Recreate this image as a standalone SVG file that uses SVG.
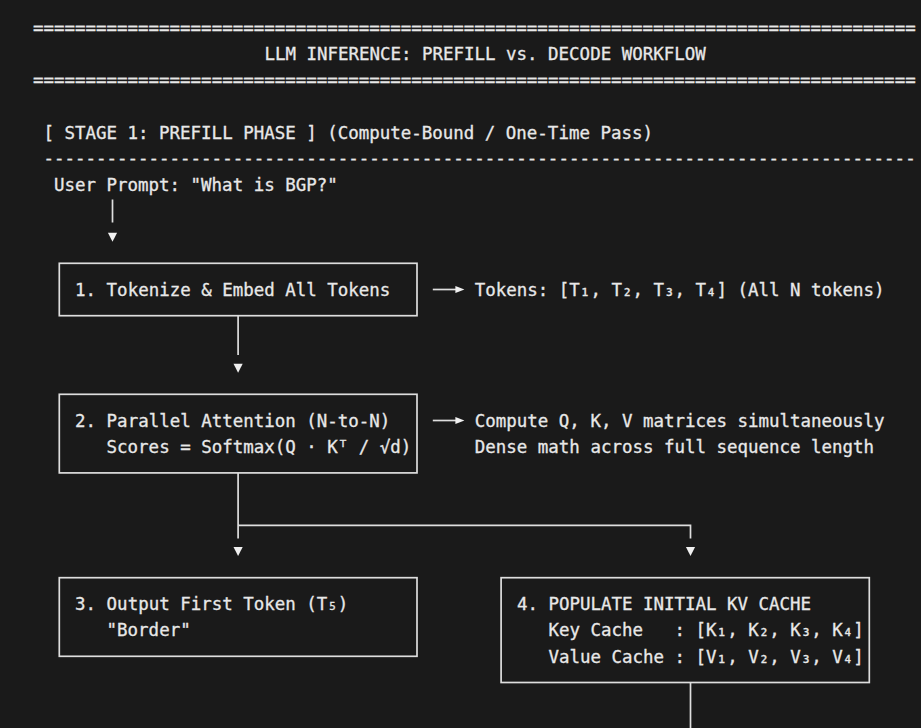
<svg xmlns="http://www.w3.org/2000/svg" width="921" height="728" viewBox="0 0 921 728">
  <style>
    .t { font-family: "DejaVu Sans Mono", "Liberation Mono", monospace; font-size: 17.47px; fill: #e8e8e8; stroke: #e8e8e8; stroke-width: 0.3; white-space: pre; }
    .box { fill: none; stroke: #dedede; stroke-width: 1.7; }
    .ln { fill: none; stroke: #dedede; stroke-width: 1.7; }
    .head { fill: #f0f0f0; }
  </style>
  <defs>
    <path id="down" d="M -4.6 -4.4 L 4.6 -4.4 L 0 4.6 Z"/>
    <path id="right" d="M -9 -3.6 L 0 0 L -9 3.6 Z"/>
  </defs>
  <rect x="0" y="0" width="921" height="728" fill="#1a1a1a"/>

  <g id="header">
    <text class="t" x="33" y="33.8">====================================================================================</text>
    <text class="t" x="264.4" y="60.3">LLM INFERENCE: PREFILL vs. DECODE WORKFLOW</text>
    <text class="t" x="33" y="86.2">====================================================================================</text>
    <text class="t" x="43.5" y="138.6">[ STAGE 1: PREFILL PHASE ] (Compute-Bound / One-Time Pass)</text>
    <text class="t" x="43.5" y="164.3">-----------------------------------------------------------------------------------</text>
  </g>

  <g id="prompt">
    <text class="t" x="54" y="191">User Prompt: "What is BGP?"</text>
  </g>

  <g id="node1">
    <rect class="box" x="59.3" y="263.3" width="357.7" height="52.4"/>
    <text class="t" x="75.1" y="295.8">1. Tokenize &amp; Embed All Tokens</text>
  </g>
  <g id="note1">
    <text class="t" x="474.8" y="295.8">Tokens: [T₁, T₂, T₃, T₄] (All N tokens)</text>
  </g>

  <g id="node2">
    <rect class="box" x="59.3" y="394.3" width="357.7" height="78.6"/>
    <text class="t" x="75.1" y="426.8">2. Parallel Attention (N-to-N)</text>
    <text class="t" x="106.6" y="453">Scores = Softmax(Q · Kᵀ / √d)</text>
  </g>
  <g id="note2">
    <text class="t" x="474.8" y="426.8">Compute Q, K, V matrices simultaneously</text>
    <text class="t" x="474.8" y="453">Dense math across full sequence length</text>
  </g>

  <g id="node3">
    <rect class="box" x="59.3" y="577.7" width="357.7" height="78.6"/>
    <text class="t" x="75.1" y="610.2">3. Output First Token (T₅)</text>
    <text class="t" x="106.6" y="636.4">"Border"</text>
  </g>

  <g id="node4">
    <rect class="box" x="501.1" y="577.7" width="368.2" height="104.8"/>
    <text class="t" x="516.9" y="610.2">4. POPULATE INITIAL KV CACHE</text>
    <text class="t" x="548.5" y="636.4">Key Cache   : [K₁, K₂, K₃, K₄]</text>
    <text class="t" x="548.5" y="662.6">Value Cache : [V₁, V₂, V₃, V₄]</text>
  </g>

  <g id="connectors">
    <path class="ln" d="M 112.5 199.5 V 222.5"/>
    <use href="#down" class="head" x="112.5" y="237.2"/>

    <path class="ln" d="M 238.1 315.7 V 355"/>
    <use href="#down" class="head" x="238.1" y="368.1"/>

    <path class="ln" d="M 238.1 472.9 V 538.4 M 238.1 525.3 H 690.5 V 538.4"/>
    <use href="#down" class="head" x="238.1" y="551.5"/>
    <use href="#down" class="head" x="690.5" y="551.5"/>

    <path class="ln" d="M 690.5 682.5 V 730"/>

    <path class="ln" d="M 432.8 289.5 H 456"/>
    <use href="#right" class="head" x="464.4" y="289.5"/>
    <path class="ln" d="M 432.8 420.5 H 456"/>
    <use href="#right" class="head" x="464.4" y="420.5"/>
  </g>
</svg>
